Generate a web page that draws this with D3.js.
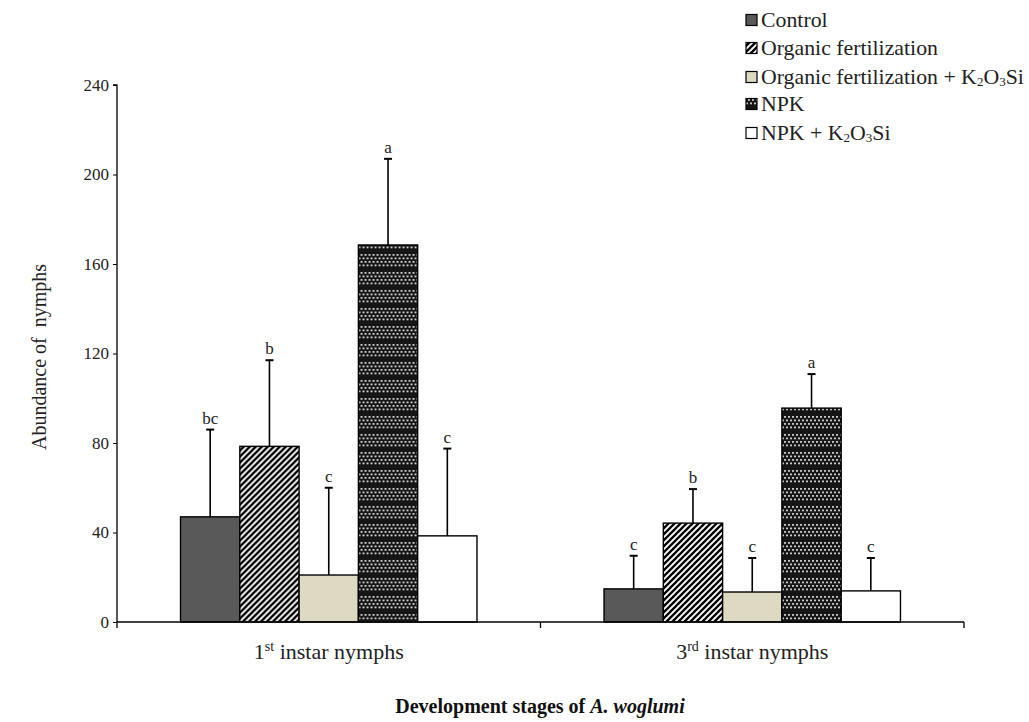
<!DOCTYPE html>
<html><head><meta charset="utf-8">
<script src="https://cdn.jsdelivr.net/npm/d3@7"></script>
<style>body{margin:0;background:#fff}svg{display:block}</style>
</head><body><svg id="c" width="1029" height="722"></svg>
<script>
const FONT = "'Liberation Serif', 'Times New Roman', 'DejaVu Serif', serif";
const stages = ["1st", "3rd"];
const treatments = ["Control","Organic fertilization","Organic fertilization + K₂O₃Si","NPK","NPK + K₂O₃Si"];
const means1 = [47, 78.5, 21, 168.5, 38.5];
const errs1 = [39, 38.5, 39, 38.5, 39];
const letters1 = ["bc","b","c","a","c"];
const means3 = [14.8, 44.2, 13.4, 95.6, 13.9];
const errs3 = [14.8, 15.2, 15.2, 15.2, 14.7];
const letters3 = ["c","b","c","a","c"];
const yTicks = [0,40,80,120,160,200,240];

const svg = d3.select("#c").attr("font-family", FONT);
const defs = svg.append("defs");
const pd = defs.append("pattern").attr("id","diag").attr("patternUnits","userSpaceOnUse").attr("width",6).attr("height",6);
pd.append("rect").attr("width",6).attr("height",6).attr("fill","#fff");
pd.append("path").attr("d","M-1,7 L7,-1 M-4,4 L4,-4 M2,10 L10,2").attr("stroke","#000").attr("stroke-width",2.3);
const pc = defs.append("pattern").attr("id","chk").attr("patternUnits","userSpaceOnUse").attr("width",4).attr("height",18);
pc.append("rect").attr("width",4).attr("height",18).attr("fill","#151515");
for (let r=0;r<4;r++){ pc.append("rect").attr("x",(r%2)*2).attr("y",2+r*3.5).attr("width",2).attr("height",1.8).attr("fill","#c8c8c8"); }
const fills = ["#595959","url(#diag)","#ddd9c3","url(#chk)","#ffffff"];

const x0 = d3.scaleBand().domain(stages).range([117,964]);
const x1 = d3.scaleBand().domain(d3.range(5)).range([0,x0.bandwidth()*0.7]);
const y = d3.scaleLinear().domain([0,240]).range([622,85]);

const data = stages.map((s,i)=>({s, means: i?means3:means1, errs: i?errs3:errs1, letters: i?letters3:letters1}));

data.forEach(d=>{
  const gx = x0(d.s) + x0.bandwidth()*0.15;
  const g = svg.append("g").attr("transform",`translate(${gx},0)`);
  d.means.forEach((m,k)=>{
    const bx = x1(k), bw = x1.bandwidth(), cx = bx+bw/2;
    const top = y(m+d.errs[k]);
    g.append("line").attr("x1",cx).attr("x2",cx).attr("y1",y(m)).attr("y2",top).attr("stroke","#000").attr("stroke-width",1.6);
    g.append("line").attr("x1",cx-4).attr("x2",cx+4).attr("y1",top).attr("y2",top).attr("stroke","#000").attr("stroke-width",2);
    g.append("rect").attr("x",bx).attr("y",y(m)).attr("width",bw).attr("height",y(0)-y(m)).attr("fill",fills[k]).attr("stroke","#000").attr("stroke-width",1.4);
    g.append("text").attr("x",cx).attr("y",top-6).attr("text-anchor","middle").attr("font-size",17).attr("fill","#222").text(d.letters[k]);
  });
});

const ya = svg.append("g").attr("transform","translate(117,0)").call(d3.axisLeft(y).tickValues(yTicks).tickSize(4).tickPadding(4));
ya.attr("font-family", FONT).attr("font-size",17);
ya.select(".domain").attr("stroke","#000").attr("stroke-width",1.3).attr("d","M-4,85H0V622");
ya.selectAll("line").attr("stroke","#000");
ya.selectAll("text").attr("fill","#222");

const xa = svg.append("g").attr("transform","translate(0,622)");
xa.append("line").attr("x1",117).attr("x2",964).attr("y1",0).attr("y2",0).attr("stroke","#000").attr("stroke-width",1.3);
[117, x0("3rd"), 964].forEach(v=>xa.append("line").attr("x1",v).attr("x2",v).attr("y1",0).attr("y2",6).attr("stroke","#000").attr("stroke-width",1.3));
data.forEach(d=>{
  const t = xa.append("text").attr("x",x0(d.s)+x0.bandwidth()/2).attr("y",37).attr("text-anchor","middle").attr("font-size",22).attr("fill","#222");
  t.append("tspan").text(d.s[0]);
  t.append("tspan").attr("dy",-8).attr("font-size",14).text(d.s.slice(1));
  t.append("tspan").attr("dy",8).text(" instar nymphs");
});

svg.append("text").attr("transform","translate(46,357) rotate(-90)").attr("text-anchor","middle").attr("font-size",20).attr("fill","#222").attr("xml:space","preserve").text("Abundance of  nymphs");
const tt = svg.append("text").attr("x",540).attr("y",713).attr("text-anchor","middle").attr("font-size",20).attr("font-weight","bold").attr("fill","#111");
tt.append("tspan").text("Development stages of ");
tt.append("tspan").attr("font-style","italic").text("A. woglumi");

const ly = [20,48,77,104,133];
treatments.forEach((t,k)=>{
  svg.append("rect").attr("x",746).attr("y",ly[k]-5.5).attr("width",11).attr("height",11).attr("fill",fills[k]).attr("stroke","#000").attr("stroke-width",1.2);
  const tx = svg.append("text").attr("x",761).attr("y",ly[k]+7).attr("font-size",21.8).attr("fill","#222");
  const m = t.match(/^(.*?)K₂O₃Si$/);
  if (m) {
    tx.append("tspan").text(m[1]+"K");
    tx.append("tspan").attr("font-size",13).attr("dy",2).text("2");
    tx.append("tspan").attr("dy",-2).text("O");
    tx.append("tspan").attr("font-size",13).attr("dy",2).text("3");
    tx.append("tspan").attr("dy",-2).text("Si");
  } else tx.text(t);
});
</script></body></html>
